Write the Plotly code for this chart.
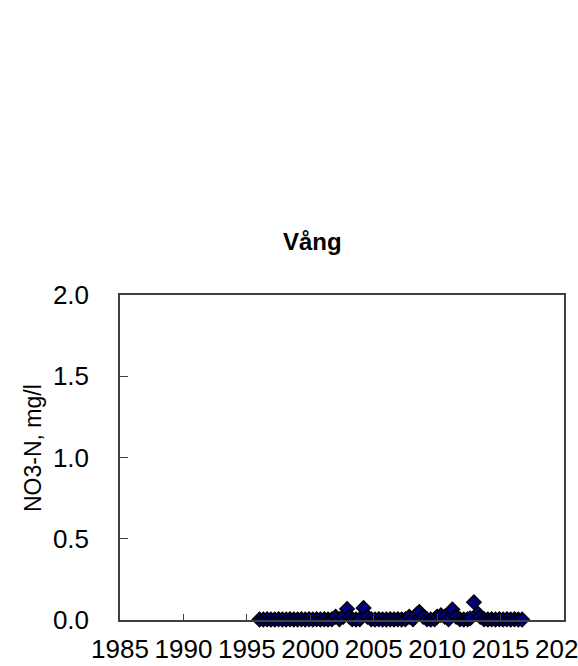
import plotly.graph_objects as go

years = [
    1996.0, 1996.3, 1996.6, 1996.9,
    1997.2, 1997.5, 1997.8,
    1998.1, 1998.4, 1998.7,
    1999.0, 1999.3, 1999.6, 1999.9,
    2000.2, 2000.5, 2000.8,
    2001.1, 2001.4, 2001.7,
    2002.0, 2002.3, 2002.6, 2002.9,
    2003.1, 2003.3, 2003.6,
    2003.9, 2004.2, 2004.5, 2004.8,
    2005.1, 2005.4, 2005.7,
    2006.0, 2006.3, 2006.6, 2006.9,
    2007.2, 2007.5, 2007.8,
    2008.1, 2008.4, 2008.6, 2008.9,
    2009.2, 2009.5, 2009.8,
    2010.0, 2010.3, 2010.6, 2010.9,
    2011.2, 2011.5, 2011.8,
    2012.1, 2012.4, 2012.6, 2012.9,
    2013.2, 2013.4, 2013.7,
    2014.0, 2014.3, 2014.6, 2014.9,
    2015.2, 2015.5, 2015.8,
    2016.1, 2016.4, 2016.7,
]
no3n = [
    0.003, 0.003, 0.005, 0.003,
    0.003, 0.005, 0.003,
    0.003, 0.005, 0.003,
    0.003, 0.005, 0.003, 0.005,
    0.003, 0.005, 0.003,
    0.005, 0.003, 0.005,
    0.02, 0.005, 0.02, 0.068,
    0.02, 0.005, 0.003,
    0.005, 0.074, 0.02, 0.005,
    0.003, 0.005, 0.003,
    0.003, 0.005, 0.003, 0.005,
    0.003, 0.005, 0.02,
    0.005, 0.035, 0.05, 0.02,
    0.005, 0.003, 0.005,
    0.02, 0.03, 0.02, 0.005,
    0.065, 0.02, 0.005,
    0.003, 0.005, 0.01, 0.11,
    0.04, 0.02, 0.005,
    0.003, 0.005, 0.003, 0.005,
    0.003, 0.005, 0.003,
    0.005, 0.003, 0.003,
]

x_ticks = [1985, 1990, 1995, 2000, 2005, 2010, 2015, 2020]
y_ticks = [0.0, 0.5, 1.0, 1.5, 2.0]
title_text = "Vång"
y_title = "NO3-N, mg/l"

FONT = "Arial, Liberation Sans, sans-serif"
AX = "#404040"

fig = go.Figure()
fig.add_trace(go.Scatter(
    x=years, y=no3n, mode="markers",
    marker=dict(symbol="diamond", size=11, color="#000080",
                line=dict(color="black", width=1.5)),
    cliponaxis=False, showlegend=False,
))

fig.update_layout(
    template="none",
    width=578, height=666,
    margin=dict(l=120, r=14, t=295, b=46, pad=0),
    paper_bgcolor="white", plot_bgcolor="white",
    font=dict(family=FONT, color="black", size=26),
    showlegend=False,
    annotations=[
        dict(text="<b>" + title_text + "</b>", xref="paper", yref="paper",
             x=(312 - 120) / 444, y=1 + (295 - 241) / 325,
             xanchor="center", yanchor="middle", showarrow=False,
             font=dict(family=FONT, size=24, color="black")),
        dict(text=y_title, xref="paper", yref="paper",
             x=(33 - 120) / 444, y=(620 - 448) / 325,
             xanchor="center", yanchor="middle", showarrow=False, textangle=-90,
             font=dict(family=FONT, size=23, color="black")),
    ],
)
fig.update_xaxes(
    range=[1985, 2020], tickvals=x_ticks, ticktext=[str(v) for v in x_ticks],
    tickangle=0, ticks="inside", ticklen=6, tickcolor=AX, tickwidth=1,
    showline=True, linecolor=AX, linewidth=1.5, mirror=True,
    showgrid=False, zeroline=False, ticklabelstandoff=5,
    ticklabeloverflow="allow", automargin=False,
    tickfont=dict(family=FONT, size=26, color="black"),
)
fig.update_yaxes(
    range=[0, 2], tickvals=y_ticks, ticktext=[f"{v:.1f}" for v in y_ticks],
    ticks="inside", ticklen=8, tickcolor=AX, tickwidth=1,
    showline=True, linecolor=AX, linewidth=1.5, mirror=True,
    showgrid=False, zeroline=False, ticklabelstandoff=24,
    ticklabeloverflow="allow", automargin=False,
    tickfont=dict(family=FONT, size=26, color="black"),
)

fig.write_html("out.html", config={"displayModeBar": False},
               post_script="document.body.style.margin='0';")
